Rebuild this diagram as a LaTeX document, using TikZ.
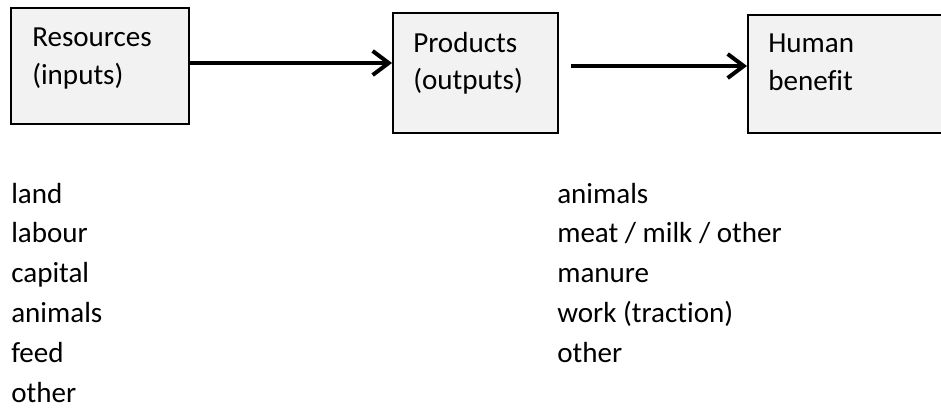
\documentclass[tikz,border=0pt]{standalone}
\usepackage{fontspec}
\setmainfont{Carlito}[Ligatures=NoCommon]
\usetikzlibrary{arrows.meta}
\definecolor{boxgray}{HTML}{F2F2F2}
\begin{document}
\begin{tikzpicture}[x=0.75pt,y=-0.75pt,
  stage/.style={draw=black, line width=1.5pt, fill=boxgray, inner sep=0pt},
  txt/.style={anchor=base west, inner sep=0pt, font=\fontsize{21.8}{26}\selectfont},
  flow/.style={line width=3pt, -{Straight Barb[length=12pt,width=18pt,line width=3pt]}}]
\useasboundingbox (0,0) rectangle (941,407);

% stage boxes
\node[stage, minimum width=133.5pt, minimum height=87pt] (res) at (100,66) {};
\node[stage, minimum width=123.75pt, minimum height=90pt] (prod) at (475.5,73) {};
\node[stage, minimum width=159pt, minimum height=88.5pt] (hum) at (854,74) {};

% box captions
\node[txt] (res1) at (32,46.7) {Resources};
\node[txt] (res2) at (32,84) {(inputs)};
\node[txt] (prod1) at (413,52) {Products};
\node[txt] (prod2) at (413,89.3) {(outputs)};
\node[txt] (hum1) at (768,52.3) {Human};
\node[txt] (hum2) at (768,90) {benefit};

% connectors
\coordinate (a1) at (189,63);
\coordinate (a2) at (571,66);
\draw[flow] (a1) -- (a1 -| prod.west);
\draw[flow] (a2) -- (a2 -| hum.west);

% lists of inputs and outputs
\foreach \t [count=\i] in {land,labour,capital,animals,feed,other}
  \node[txt] (in\i) at (11,{203+(\i-1)*39.8}) {\t};
\foreach \t [count=\i] in {animals,meat / milk / other,manure,work (traction),other}
  \node[txt] (out\i) at (557,{203+(\i-1)*39.8}) {\t};
\end{tikzpicture}
\end{document}
